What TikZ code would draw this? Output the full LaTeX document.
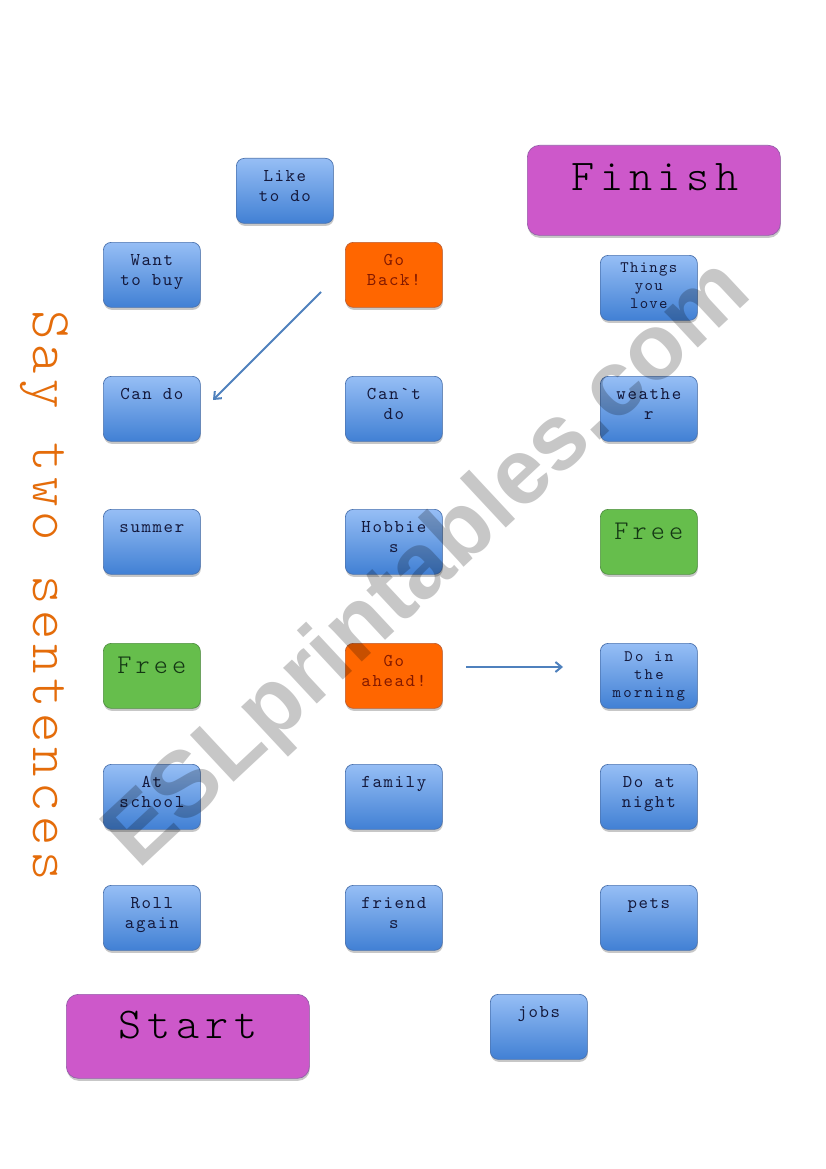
\documentclass[tikz,border=0pt]{standalone}
\usepackage{fontspec}
\usetikzlibrary{arrows.meta,shadows}
\newfontfamily\tilefont{lmmono10-regular.otf}[Ligatures=TeXOff]
\newfontfamily\bigfont{lmmonolt10-regular.otf}[Ligatures=TeXOff]
\newfontfamily\wmfont{Liberation Sans}
\definecolor{bluetop}{RGB}{150,190,245}
\definecolor{bluebot}{RGB}{65,128,212}
\definecolor{blueedge}{RGB}{75,115,175}
\definecolor{bluetxt}{RGB}{20,25,60}
\definecolor{orangefill}{RGB}{255,102,0}
\definecolor{orangeedge}{RGB}{190,95,50}
\definecolor{orangetxt}{RGB}{130,25,0}
\definecolor{greenfill}{RGB}{102,190,76}
\definecolor{greenedge}{RGB}{80,145,65}
\definecolor{greentxt}{RGB}{20,55,20}
\definecolor{purplefill}{RGB}{205,88,202}
\definecolor{purpleedge}{RGB}{150,95,170}
\definecolor{sidetxt}{RGB}{228,108,10}
\definecolor{arrowcol}{RGB}{79,129,189}
\tikzset{
  tile/.style={rounded corners=8pt, minimum width=97pt, minimum height=65pt,
    inner sep=0pt, anchor=north west, line width=0.7pt,
    drop shadow={shadow xshift=0.5pt, shadow yshift=-2.5pt, fill=black, opacity=0.22}},
  bluetile/.style={tile, draw=blueedge, top color=bluetop, bottom color=bluebot},
  orangetile/.style={tile, draw=orangeedge, fill=orangefill},
  greentile/.style={tile, draw=greenedge, fill=greenfill},
  bigtile/.style={rounded corners=12pt, inner sep=0pt, anchor=north west,
    draw=purpleedge, fill=purplefill, line width=0.7pt,
    drop shadow={shadow xshift=0.5pt, shadow yshift=-2.5pt, fill=black, opacity=0.22}},
  tiletext/.style={anchor=north, inner sep=0pt, align=center, text=bluetxt,
    font=\tilefont\addfontfeatures{LetterSpace=9}\fontsize{18}{20}\selectfont},
  orangetext/.style={tiletext, text=orangetxt},
  freetext/.style={anchor=base, inner sep=0pt, text=greentxt,
    font=\bigfont\addfontfeatures{LetterSpace=15}\fontsize{27}{30}\selectfont},
  bigtext/.style={anchor=base, inner sep=0pt, text=black,
    font=\bigfont\addfontfeatures{LetterSpace=13}\fontsize{44}{50}\selectfont},
  arr/.style={draw=arrowcol, line width=2pt, -{Straight Barb[length=6pt,width=10pt,line width=2pt]}},
}
\begin{document}
\begin{tikzpicture}[x=1pt,y=-1pt]
\path[use as bounding box, fill=white] (0,0) rectangle (826,1169);

% side text
\node[anchor=base west, rotate=-90, inner sep=0pt, text=sidetxt,
  font=\bigfont\addfontfeatures{LetterSpace=9}\fontsize{56}{60}\selectfont]
  (side) at (33,310) {Say two sentences};

% finish / start
\node[bigtile, minimum width=253pt, minimum height=90pt] (finish) at (527,145) {};
\node[bigtext] (finishT) at (655,190) {Finish};
\node[bigtile, minimum width=243pt, minimum height=84pt] (start) at (66,994) {};
\node[bigtext] (startT) at (188,1038) {Start};

% tiles
\node[bluetile] (like) at (236,158) {};
\node[tiletext] (likeT) at ([yshift=-9pt]like.north) {\strut Like\\to do};

\node[bluetile] (want) at (103,242) {};
\node[tiletext] (wantT) at ([yshift=-9pt]want.north) {\strut Want\\to buy};

\node[orangetile] (back) at (345,242) {};
\node[orangetext] (backT) at ([yshift=-9pt]back.north) {\strut Go\\Back!};

\node[bluetile] (things) at (600,255) {};
\node[tiletext, font=\tilefont\addfontfeatures{LetterSpace=8}\fontsize{16}{18}\selectfont]
  (thingsT) at ([yshift=-5pt]things.north) {\strut Things\\you\\love};

\node[bluetile] (cando) at (103,376) {};
\node[tiletext] (candoT) at ([yshift=-9pt]cando.north) {\strut Can do};

\node[bluetile] (cant) at (345,376) {};
\node[tiletext] (cantT) at ([yshift=-9pt]cant.north) {\strut Can`t\\do};

\node[bluetile] (weather) at (600,376) {};
\node[tiletext] (weatherT) at ([yshift=-9pt]weather.north) {\strut weathe\\r};

\node[bluetile] (summer) at (103,509) {};
\node[tiletext] (summerT) at ([yshift=-9pt]summer.north) {\strut summer};

\node[bluetile] (hobbies) at (345,509) {};
\node[tiletext] (hobbiesT) at ([yshift=-9pt]hobbies.north) {\strut Hobbie\\s};

\node[greentile] (free1) at (600,509) {};
\node[freetext] (free1T) at ([yshift=-30pt]free1.north) {Free};

\node[greentile] (free2) at (103,643) {};
\node[freetext] (free2T) at ([yshift=-30pt]free2.north) {Free};

\node[orangetile] (ahead) at (345,643) {};
\node[orangetext] (aheadT) at ([yshift=-9pt]ahead.north) {\strut Go\\ahead!};

\node[bluetile] (morning) at (600,643) {};
\node[tiletext, font=\tilefont\addfontfeatures{LetterSpace=14}\fontsize{16}{18}\selectfont]
  (morningT) at ([yshift=-6pt]morning.north) {\strut Do in\\the\\morning};

\node[bluetile] (school) at (103,764) {};
\node[tiletext] (schoolT) at ([yshift=-9pt]school.north) {\strut At\\school};

\node[bluetile] (family) at (345,764) {};
\node[tiletext] (familyT) at ([yshift=-9pt]family.north) {\strut family};

\node[bluetile] (night) at (600,764) {};
\node[tiletext] (nightT) at ([yshift=-9pt]night.north) {\strut Do at\\night};

\node[bluetile] (roll) at (103,885) {};
\node[tiletext] (rollT) at ([yshift=-9pt]roll.north) {\strut Roll\\again};

\node[bluetile] (friends) at (345,885) {};
\node[tiletext] (friendsT) at ([yshift=-9pt]friends.north) {\strut friend\\s};

\node[bluetile] (pets) at (600,885) {};
\node[tiletext] (petsT) at ([yshift=-9pt]pets.north) {\strut pets};

\node[bluetile] (jobs) at (490,994) {};
\node[tiletext] (jobsT) at ([yshift=-9pt]jobs.north) {\strut jobs};

% arrows
\coordinate (a1s) at (321,292);
\coordinate (a1e) at (213,400);
\draw[arr] (a1s) -- (a1e);
\coordinate (a2s) at (466,667);
\coordinate (a2e) at (563,667);
\draw[arr] (a2s) -- (a2e);

% watermark
\node[rotate=43, inner sep=0pt, text=black, text opacity=0.22,
  font=\wmfont\bfseries\fontsize{93}{100}\selectfont] (wmark) at (430,566) {ESLprintables.com};
\end{tikzpicture}
\end{document}
